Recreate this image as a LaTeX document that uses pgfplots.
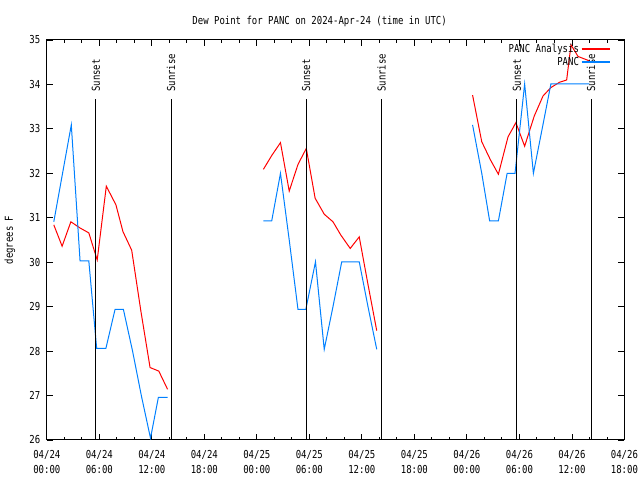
\documentclass[border=0pt]{standalone}
\usepackage{pgfplots}
\pgfplotsset{compat=1.18}
\usepackage{fontspec}
\setmainfont[FakeStretch=0.82]{DejaVu Sans Mono}
\definecolor{pred}{RGB}{255,0,0}
\definecolor{pblue}{RGB}{0,128,255}
\begin{document}
\begin{tikzpicture}[x=1bp,y=1bp,font=\fontsize{11}{13}\selectfont]
\useasboundingbox (0,0) rectangle (640,480);
\begin{axis}[
  at={(46.8bp,40bp)}, anchor=south west,
  width=577.6bp, height=400bp, scale only axis,
  xmin=0, xmax=66, ymin=26, ymax=35,
  xtick={0,6,...,66}, minor x tick num=2,
  ytick={26,27,...,35},
  xticklabels={{04/24\\00:00},{04/24\\06:00},{04/24\\12:00},{04/24\\18:00},{04/25\\00:00},{04/25\\06:00},{04/25\\12:00},{04/25\\18:00},{04/26\\00:00},{04/26\\06:00},{04/26\\12:00},{04/26\\18:00}},
  xticklabel style={align=center, font=\fontsize{11}{15}\selectfont, yshift=-7bp},
  yticklabel style={xshift=-3bp},
  /pgf/number format/assume math mode=true,
  tick align=inside,
  major tick length=6bp, minor tick length=3bp,
  every tick/.style={black, line width=0.8bp},
  axis line style={black, line width=1bp},
  title={Dew Point for PANC on 2024-Apr-24 (time in UTC)},
  title style={at={(axis description cs:0.4723,1.0325)}, anchor=center, yshift=0pt},
  ylabel={degrees F},
  ylabel style={at={(axis description cs:-0.064,0.5)}, anchor=center},
  unbounded coords=jump,
  legend plot pos=right,
  legend cell align=right,
  legend style={draw=none, fill=none, at={(axis description cs:1,1)}, anchor=north east, xshift=-11bp, yshift=0bp, row sep=-1bp, font=\fontsize{11}{13}\selectfont},
]
\addlegendimage{legend image code/.code={\draw[draw=pred, line width=1.3bp] (0cm,0cm) -- (0.988cm,0cm);}}
\addlegendentry{PANC Analysis}
\addlegendimage{legend image code/.code={\draw[draw=pblue, line width=1.3bp] (0cm,0cm) -- (0.988cm,0cm);}}
\addlegendentry{PANC}
\addplot[color=pred, line width=1bp, forget plot] coordinates {
(0.8,30.84) (1.75,30.36) (2.75,30.91) (3.8,30.77) (4.8,30.66) (5.76,30.05) (6.8,31.71) (7.9,31.29) (8.7,30.69) (9.7,30.27) (10.75,28.9) (11.8,27.63) (12.8,27.55) (13.8,27.14)
(19,nan)
(24.75,32.09) (25.7,32.4) (26.7,32.69) (27.7,31.60) (28.7,32.2) (29.65,32.56) (30.66,31.44) (31.7,31.08) (32.7,30.91) (33.6,30.61) (34.67,30.31) (35.7,30.57) (36.7,29.5) (37.7,28.46)
(43,nan)
(48.65,33.76) (49.7,32.71) (50.7,32.3) (51.6,31.98) (52.7,32.82) (53.6,33.14) (54.6,32.61) (55.7,33.29) (56.7,33.74) (57.6,33.93) (58.6,34.05) (59.4,34.1) (59.9,34.89) (60.7,34.63) (62.0,34.53)
};
\addplot[color=pblue, line width=1bp, forget plot] coordinates {
(0.8,30.91) (1.8,32.0) (2.8,33.09) (3.8,30.03) (4.8,30.03) (5.7,28.06) (6.75,28.06) (7.8,28.94) (8.75,28.94) (9.8,28.0) (10.8,27.0) (11.85,26.04) (12.75,26.96) (13.8,26.96)
(19,nan)
(24.75,30.93) (25.7,30.93) (26.7,32.0) (27.7,30.5) (28.7,28.94) (29.6,28.94) (30.7,30.01) (31.7,28.04) (32.7,29.0) (33.7,30.01) (34.7,30.01) (35.7,30.01) (36.7,29.0) (37.7,28.04)
(43,nan)
(48.65,33.09) (49.7,32.0) (50.6,30.93) (51.6,30.93) (52.6,32.0) (53.5,32.0) (54.6,34.01) (55.6,32.0) (56.6,33.0) (57.6,34.01) (58.6,34.01) (59.6,34.01) (60.6,34.01) (62.0,34.01)
};
\addplot[black, line width=1bp, forget plot] coordinates {(5.62,26) (5.62,33.67)};
\addplot[black, line width=1bp, forget plot] coordinates {(14.2,26) (14.2,33.67)};
\addplot[black, line width=1bp, forget plot] coordinates {(29.63,26) (29.63,33.67)};
\addplot[black, line width=1bp, forget plot] coordinates {(38.24,26) (38.24,33.67)};
\addplot[black, line width=1bp, forget plot] coordinates {(53.7,26) (53.7,33.67)};
\addplot[black, line width=1bp, forget plot] coordinates {(62.2,26) (62.2,33.67)};
\node[rotate=90, anchor=west, inner sep=0pt] at (axis cs:5.62,33.83) {Sunset};
\node[rotate=90, anchor=west, inner sep=0pt] at (axis cs:14.2,33.83) {Sunrise};
\node[rotate=90, anchor=west, inner sep=0pt] at (axis cs:29.63,33.83) {Sunset};
\node[rotate=90, anchor=west, inner sep=0pt] at (axis cs:38.24,33.83) {Sunrise};
\node[rotate=90, anchor=west, inner sep=0pt] at (axis cs:53.7,33.83) {Sunset};
\node[rotate=90, anchor=west, inner sep=0pt] at (axis cs:62.2,33.83) {Sunrise};
\end{axis}
\end{tikzpicture}
\end{document}
